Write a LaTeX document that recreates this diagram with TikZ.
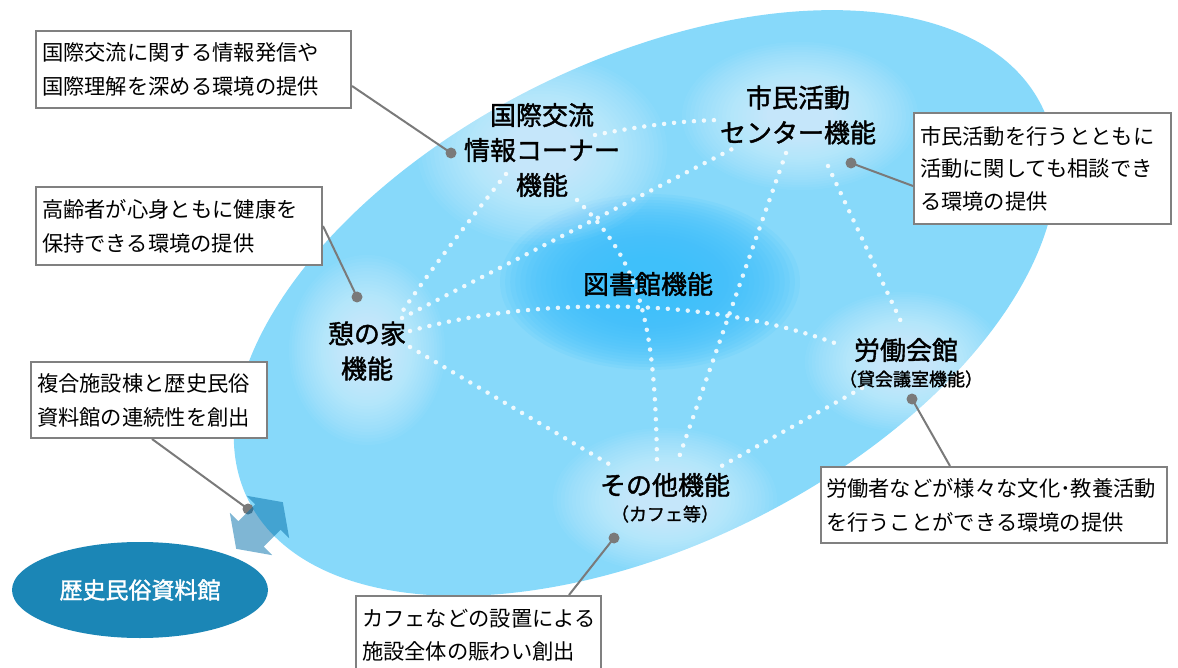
\documentclass[tikz,border=0pt]{standalone}
\usepackage{fontspec}
\setmainfont{Noto Sans CJK JP}[AutoFakeBold=1.5]
\usetikzlibrary{shapes.geometric}
\definecolor{ellblue}{RGB}{135,217,250}
\definecolor{coreblue}{RGB}{62,192,250}
\definecolor{darkell}{RGB}{27,134,182}
\definecolor{leadgray}{RGB}{122,122,122}
\definecolor{boxgray}{RGB}{128,128,128}
\definecolor{arrowblue}{RGB}{0,110,170}
% soft glow made of stacked translucent ellipses: colour, cx, cy, rx, ry, opacity per layer
\newcommand\glowlayers[6]{%
  \foreach \k in {0,...,21}{%
    \pgfmathsetmacro\glowf{1-0.034*\k}%
    \fill[#1, opacity=#6] (#2,#3) ellipse [x radius={\glowf*#4pt}, y radius={\glowf*#5pt}];%
  }}
\begin{document}
\begin{tikzpicture}[x=1pt,y=-1pt,
  title/.style={align=center, inner sep=0pt, text=black, font=\fontsize{26}{35}\selectfont\bfseries},
  subtitle/.style={align=center, inner sep=0pt, text=black, font=\fontsize{18}{20}\selectfont\bfseries},
  annbox/.style={draw=boxgray, line width=2pt, fill=white, align=left, inner xsep=6pt, inner ysep=0pt, anchor=north west, font=\fontsize{21.3}{34}\selectfont},
  leader/.style={draw=leadgray, line width=2pt},
  leaddot/.style={fill=leadgray},
  dotline/.style={white, opacity=0.85, line width=4.5pt, line cap=round, dash pattern=on 0pt off 10pt}
]
\useasboundingbox (0,0) rectangle (1178,668);

% main ellipse
\fill[ellblue, rotate around={26.4:(645,303)}] (645,303) ellipse [x radius=443pt, y radius=242pt];

% glows
\begin{scope}
\clip[rotate around={26.4:(645,303)}] (645,303) ellipse [x radius=443pt, y radius=242pt];
\glowlayers{coreblue}{650}{282}{150}{88}{0.11}
\glowlayers{white}{542}{150}{125}{95}{0.04}
\glowlayers{white}{800}{116}{118}{74}{0.04}
\glowlayers{white}{367}{350}{78}{95}{0.04}
\glowlayers{white}{905}{362}{100}{70}{0.04}
\glowlayers{white}{665}{500}{112}{72}{0.04}
\end{scope}

% connector end points
\coordinate (k1) at (595,135);  \coordinate (s1) at (718,120);
\coordinate (k2) at (506,174);  \coordinate (i2) at (400,315);
\coordinate (k3) at (577,200);  \coordinate (o3) at (657,462);
\coordinate (i4) at (402,318);  \coordinate (s4) at (738,146);
\coordinate (s5) at (786,153);  \coordinate (o5) at (677,463);
\coordinate (s6) at (828,166);  \coordinate (r6) at (904,328);
\coordinate (i7) at (410,331);  \coordinate (r7) at (840,345);
\coordinate (i8) at (410,347);  \coordinate (o8) at (614,467);
\coordinate (r9) at (862,388);  \coordinate (o9) at (718,468);

% dotted connections
\draw[dotline] (k1) .. controls (640,126) and (680,121) .. (s1);
\draw[dotline] (k2) .. controls (470,220) and (430,270) .. (i2);
\draw[dotline] (k3) .. controls (640,262) and (655,320) .. (o3);
\draw[dotline] (i4) -- (s4);
\draw[dotline] (s5) -- (o5);
\draw[dotline] (s6) -- (r6);
\draw[dotline] (i7) .. controls (520,300) and (700,292) .. (r7);
\draw[dotline] (i8) -- (o8);
\draw[dotline] (r9) -- (o9);

% annotation boxes
\node[annbox, text width=303pt, minimum height=77pt] (b1) at (35,30) {国際交流に関する情報発信や\\国際理解を深める環境の提供};
\node[annbox, text width=274pt, minimum height=78pt] (b2) at (35,186) {高齢者が心身ともに健康を\\保持できる環境の提供};
\node[annbox, text width=224pt, minimum height=76pt] (b3) at (30,361) {複合施設棟と歴史民俗\\資料館の連続性を創出};
\node[annbox, text width=245pt, minimum height=111pt, font=\fontsize{21.3}{32.5}\selectfont] (b4) at (913,112) {市民活動を行うとともに\\活動に関しても相談でき\\る環境の提供};
\node[annbox, text width=336pt, minimum height=76pt, inner xsep=5pt] (b5) at (820,466) {労働者などが様々な文化･教養活動\\を行うことができる環境の提供};
\node[annbox, text width=233pt, minimum height=78pt, font=\fontsize{21.3}{33}\selectfont] (b6) at (355,595) {カフェなどの設置による\\施設全体の賑わい創出};

% leaders
\coordinate (d1) at (451,153);
\coordinate (d2) at (357,297);
\coordinate (d3) at (248,509);
\coordinate (d4) at (851,163);
\coordinate (d5) at (912,399);
\coordinate (d6) at (614,538);
\draw[leader] ([yshift=-16.5pt]b1.east) -- (d1);
\draw[leader] (b2.east) -- (d2);
\draw[leader] ([xshift=3pt]b3.south) -- (d3);
\draw[leader] ([yshift=-17.5pt]b4.west) -- (d4);
\draw[leader] ([xshift=-44pt]b5.north) -- (d5);
\draw[leader] ([xshift=90.5pt]b6.north) -- (d6);
\foreach \d in {d1,d2,d3,d4,d5,d6} \fill[leaddot] (\d) circle (5.5pt);

% double arrow
\begin{scope}[shift={(259.5,525.5)}, rotate=45]
\fill[arrowblue, opacity=0.5] (33,0) -- (12,30) -- (12,18) -- (-12,18) -- (-12,30) -- (-33,0) -- (-12,-30) -- (-12,-18) -- (12,-18) -- (12,-30) -- cycle;
\end{scope}

% history museum
\node[ellipse, fill=darkell, minimum width=256pt, minimum height=96pt, inner sep=0pt, text=white, font=\fontsize{23}{23}\selectfont\bfseries] (rekishi) at (140,590) {歴史民俗資料館};

% function labels
\node[title] (kokusai) at (542,150) {国際交流\\情報コーナー\\機能};
\node[title] (shimin) at (798,115) {市民活動\\センター機能};
\node[title] (tosho) at (648,284) {図書館機能};
\node[title] (ikoi) at (367,351) {憩の家\\機能};
\node[title] (roudou) at (906,350) {労働会館};
\node[subtitle] (roudousub) at (911,379) {（貸会議室機能）};
\node[title] (sonota) at (665,485) {その他機能};
\node[subtitle] (sonotasub) at (665,514) {（カフェ等）};
\end{tikzpicture}
\end{document}
